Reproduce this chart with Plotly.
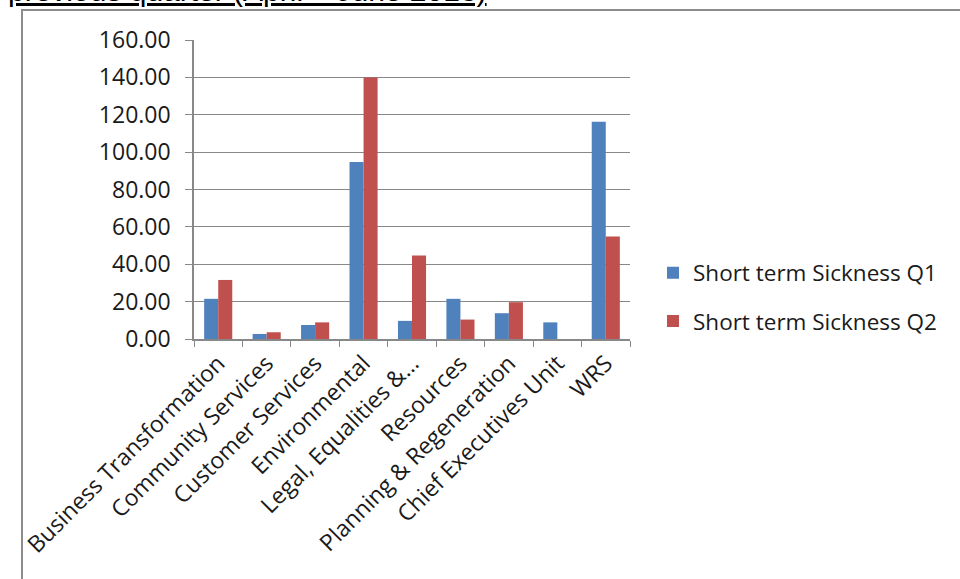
import plotly.graph_objects as go

# Short term sickness by service area, two quarters
departments = [
    "Business Transformation",
    "Community Services",
    "Customer Services",
    "Environmental",
    "Legal, Equalities &…",
    "Resources",
    "Planning & Regeneration",
    "Chief Executives Unit",
    "WRS",
]
sickness_q1 = [21.5, 2.7, 7.5, 94.7, 9.7, 21.5, 13.8, 8.9, 116.2]
sickness_q2 = [31.6, 3.6, 8.9, 140.0, 44.7, 10.4, 19.7, 0.0, 54.9]
y_ticks = [0, 20, 40, 60, 80, 100, 120, 140, 160]

W, H = 960, 579
L, R, T, B = 194, 330, 40, 240
PW, PH = W - L - R, H - T - B
FONT = "'Open Sans', sans-serif"

fig = go.Figure()
fig.add_trace(go.Bar(name="Short term Sickness Q1", x=departments, y=sickness_q1,
                     legendgroup="q1",
                     marker=dict(color="#4F81BD", line=dict(width=0))))
fig.add_trace(go.Bar(name="Short term Sickness Q2", x=departments, y=sickness_q2,
                     legendgroup="q2",
                     marker=dict(color="#C0504D", line=dict(width=0))))

fig.update_layout(
    width=W, height=H,
    margin=dict(l=L, r=R, t=T, b=B, pad=0),
    paper_bgcolor="white", plot_bgcolor="white",
    barmode="group", bargap=0.42, bargroupgap=0,
    font=dict(family=FONT, color="#1a1a1a", size=20),
    showlegend=True,
    legend=dict(x=(653 - L) / PW, y=1 - (297 - T) / PH, xanchor="left", yanchor="middle",
                font=dict(size=22.5, family=FONT, color="#1a1a1a"),
                traceorder="grouped", tracegroupgap=16,
                itemwidth=30, bgcolor="rgba(0,0,0,0)"),
    xaxis=dict(
        type="category", tickangle=-45, tickson="boundaries",
        ticks="outside", ticklen=6, tickcolor="#888888",
        showline=True, linecolor="#888888", linewidth=1.5,
        showgrid=False, tickfont=dict(size=23, family=FONT),
    ),
    yaxis=dict(
        range=[0, 160], tickvals=y_ticks, tickformat=".2f",
        ticks="outside", ticklen=7, tickcolor="#888888",
        ticklabelstandoff=10,
        showline=True, linecolor="#888888", linewidth=1.5,
        showgrid=True, gridcolor="#888888", gridwidth=1,
        zeroline=False, tickfont=dict(size=23, family=FONT),
    ),
)

# Outer frame around the chart object
fig.add_shape(type="rect", xref="paper", yref="paper",
              x0=(22 - L) / PW, x1=(W + 20 - L) / PW,
              y0=-(B + 20) / PH, y1=1 + (T - 10) / PH,
              line=dict(color="#8c8c8c", width=2), fillcolor="rgba(0,0,0,0)",
              layer="below")

# Heading line from the surrounding document
fig.add_annotation(
    text="<u>previous quarter (April – June 2013)</u>",
    xref="paper", yref="paper",
    x=(6 - L) / PW, xanchor="left",
    y=1 + (T + 9) / PH, yanchor="middle",
    showarrow=False, font=dict(size=30, family="Liberation Sans, Arial", color="#000000"),
)

fig.write_html("out.html")
